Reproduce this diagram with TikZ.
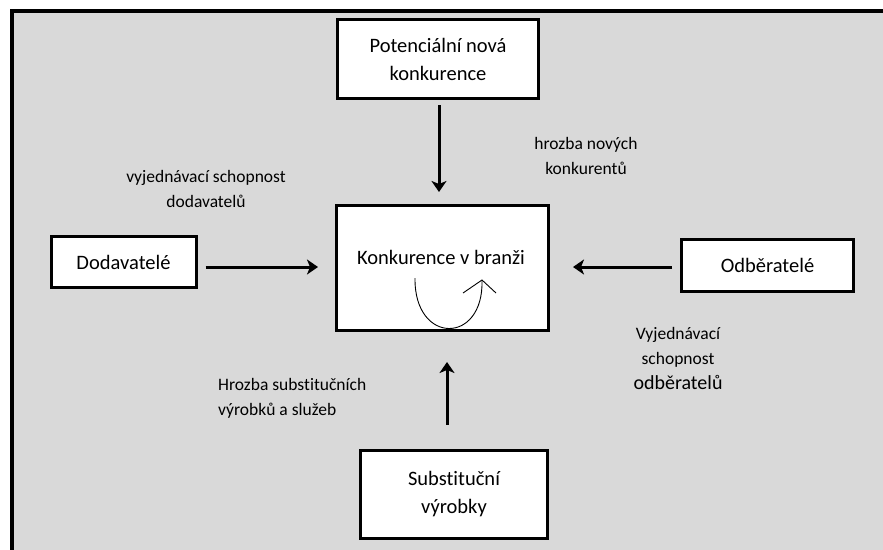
\documentclass[tikz,border=0pt]{standalone}
\usepackage{fontspec}
\setmainfont{Carlito}[Ligatures=NoCommon]
\usepackage{tikz}
\usetikzlibrary{arrows.meta}

\definecolor{pozadi}{HTML}{D9D9D9}

\begin{document}
\begin{tikzpicture}[
                    x=1pt, y=-1pt,
                    every node/.style={
                        inner sep=0pt,
                        align=center
                    },
                    box/.style={
                        draw,
                        fill=white,
                        line width=3pt,
                        font=\fontsize{20.5}{28}\selectfont
                    },
                    lbl/.style={
                        font=\fontsize{17.5}{25}\selectfont
                    },
                    arr/.style={
                        line width=3pt,
                        -{Stealth[length=11pt,width=15pt,inset=3pt]}
                    }
                ]

                    \useasboundingbox (0,0) rectangle (883,549);
                    \clip (0,0) rectangle (883,549);
                    \fill[white] (0,0) rectangle (883,549);
                    \draw[line width=4pt, fill=pozadi] (12,11) rectangle (900,570);

                    \node[box, minimum width=201pt, minimum height=79pt] (pot) at (438,59) {Potenciální nová\\konkurence};
                    \node[box, minimum width=212pt, minimum height=125pt] (konk) at (442.5,268) {};
                    \node[font=\fontsize{20.5}{28}\selectfont] (konktext) at (441,257) {Konkurence v branži};
                    \node[box, minimum width=145pt, minimum height=51pt] (dod) at (123.5,262) {Dodavatelé};
                    \node[box, minimum width=172pt, minimum height=52pt] (odb) at (767.5,265) {Odběratelé};
                    \node[box, minimum width=187pt, minimum height=88pt] (sub) at (454,494) {Substituční\\výrobky};

                    % Labels
                    \node[lbl] (l1) at (206,189) {vyjednávací schopnost\\dodavatelů};
                    \node[lbl] (l2) at (586,156) {hrozba nových\\konkurentů};
                    \node[lbl] (l3) at (678,358) {Vyjednávací\\schopnost\\{\fontsize{20}{25}\selectfont odběratelů}};
                    \node[lbl, align=left, anchor=west] (l4) at (218,398) {Hrozba substitučních\\výrobků a služeb};

                    % Arrow ends
                    \coordinate (top) at (439,192);
                    \coordinate (lft) at (318,267);
                    \coordinate (rgt) at (573,267);
                    \coordinate (bot) at (447,362);

                    % Arrows
                    \draw[arr] (pot.south -| top) ++(0,5) -- (top);
                    \draw[arr] (dod.east |- lft) ++(8,0) -- (lft);
                    \draw[arr] (odb.west |- rgt) ++(-8,0) -- (rgt);
                    \draw[arr] (sub.north -| bot) ++(0,-24) -- (bot);

                    % Curved arrow inside
                    \coordinate (c1) at (415,278);
                    \coordinate (c2) at (482,280);
                    \draw[line width=0.9pt] (c1) .. controls (414,345) and (484,345) .. (c2);
                    \draw[line width=0.9pt] (463,293) -- (c2) -- (496,293);
                \end{tikzpicture}
\end{document}
